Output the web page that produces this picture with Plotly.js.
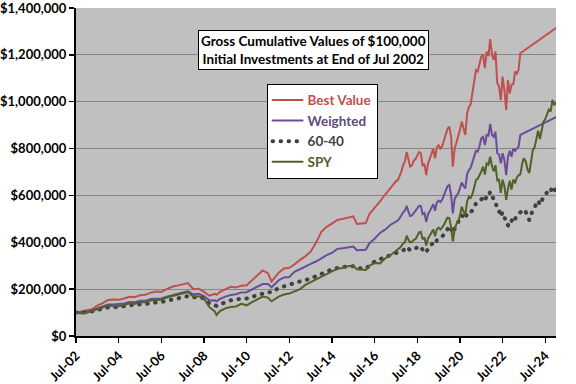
<!DOCTYPE html>
<html>
<head>
<meta charset="utf-8">
<script src="https://cdn.plot.ly/plotly-3.0.1.min.js"></script>
<style>html,body{margin:0;padding:0;background:#fff;}#chart{width:576px;height:384px;}
#chart path.js-line{stroke-linecap:round;}</style>
</head>
<body>
<div id="chart"></div>
<script>
// Dates: quarterly-ish to Jul-2017, monthly afterwards
const datesQ = ['2002-07','2002-10','2003-01','2003-04','2003-07','2003-10','2004-01','2004-04','2004-07','2004-10',
'2005-01','2005-04','2005-07','2005-10','2006-01','2006-04','2006-07','2006-10','2007-01','2007-04',
'2007-07','2007-10','2008-01','2008-04','2008-07','2008-10','2009-01','2009-02','2009-04','2009-07',
'2009-10','2010-01','2010-04','2010-07','2010-10','2011-01','2011-04','2011-07','2011-09','2012-01',
'2012-04','2012-07','2012-10','2013-01','2013-04','2013-07','2013-10','2014-01','2014-04','2014-07',
'2014-10','2015-01','2015-04','2015-07','2015-09','2016-02','2016-04','2016-07','2016-10','2017-01',
'2017-04','2017-07'];
const datesM = ['2017-08','2017-09','2017-10','2017-11','2017-12',
'2018-01','2018-02','2018-03','2018-04','2018-05','2018-06','2018-07','2018-08','2018-09','2018-10','2018-11','2018-12',
'2019-01','2019-02','2019-03','2019-04','2019-05','2019-06','2019-07','2019-08','2019-09','2019-10','2019-11','2019-12',
'2020-01','2020-02','2020-03','2020-04','2020-05','2020-06','2020-07','2020-08','2020-09','2020-10','2020-11','2020-12',
'2021-01','2021-02','2021-03','2021-04','2021-05','2021-06','2021-07','2021-08','2021-09','2021-10','2021-11','2021-12',
'2022-01','2022-02','2022-03','2022-04','2022-05','2022-06','2022-07','2022-08','2022-09','2022-10','2022-11','2022-12',
'2023-01','2023-02','2023-03','2023-04','2023-05','2023-06','2023-07','2023-08','2023-09','2023-10','2023-11','2023-12',
'2024-01','2024-02','2024-03','2024-04','2024-05','2024-06','2024-07','2024-08','2024-09','2024-10','2024-11','2024-12',
'2025-01'];
const dates = datesQ.concat(datesM);

// Values in $ thousands
const bestValue = [100,106,110,114,130,140,154,156,155,160,167,166,174,176,185,190,188,200,210,215,
220,226,200,202,188,172,180,176,188,200,210,207,215,217,238,258,280,268,232,270,
288,291,306,325,340,360,398,445,466,480,495,500,505,510,478,482,520,545,575,605,635,660,
665,680,700,730,745,
785,750,723,728,748,755,772,785,780,725,735,687,
735,758,775,800,758,805,815,800,810,835,865,885,
894,850,723,800,825,850,880,915,885,858,950,978,
990,1040,1100,1135,1129,1160,1193,1200,1143,1214,1195,1267,
1200,1179,1214,1080,1065,1008,1107,1051,965,1093,1035,1072,
1075,1129,1120,1136,1207,null,null,null,null,null,null,null,
null,null,null,null,null,null,null,null,null,null,null,null,
1314];

const weighted = [100,102,104,110,118,125,134,134,135,139,145,144,150,150,158,160,160,168,175,180,
186,191,178,180,170,152,153,148,158,168,175,178,186,187,198,210,222,222,208,238,
250,252,275,285,298,308,318,332,345,355,372,375,378,382,366,368,395,415,440,455,475,490,
493,502,515,528,535,
556,530,512,515,525,530,545,556,555,520,525,487,
520,533,545,563,535,570,578,572,582,600,625,640,
645,600,523,585,598,609,630,655,640,630,690,708,
718,742,773,790,787,810,844,850,815,858,855,905,
858,850,872,780,775,737,780,751,687,765,790,765,
800,790,800,808,858,null,null,null,null,null,null,null,
null,null,null,null,null,null,null,null,null,null,null,null,
934];

const sixtyForty = [100,99,101,105,110,116,122,122,123,127,131,131,135,137,142,143,145,150,155,160,
165,170,165,166,160,138,132,128,135,145,152,155,160,160,168,174,182,188,186,205,
212,220,226,233,238,245,255,265,275,285,290,296,298,298,290,288,302,318,328,336,344,352,
354,357,361,366,369,
380,370,366,367,370,371,378,383,382,368,372,359,
375,382,390,398,392,408,412,418,425,432,442,455,
470,455,440,458,470,485,500,515,508,500,525,532,
530,536,552,565,568,575,582,590,578,596,594,616,
596,585,575,540,535,510,528,512,478,473,495,490,
510,500,512,522,528,535,540,530,512,495,520,538,
548,565,578,560,578,590,600,612,625,618,637,622,
628];

const spy = [100,96,99,105,114,121,130,128,127,132,140,137,145,144,152,154,155,164,170,176,
180,188,168,170,160,123,105,90,106,118,124,126,137,131,145,158,168,164,148,168,
177,181,190,200,218,230,243,252,265,276,287,290,298,300,285,282,300,312,310,332,346,362,
367,375,384,395,400,
428,410,400,402,410,413,428,442,444,413,421,386,
416,429,437,455,426,456,463,455,464,474,491,505,
503,464,404,455,478,486,515,552,531,518,574,595,
589,606,633,666,671,686,702,723,689,737,731,765,
725,703,729,665,667,611,667,640,581,628,663,625,
668,652,676,686,690,734,758,746,711,695,758,793,
806,848,876,841,884,915,926,947,967,958,1008,985,
998];

const seriesNames = ['Best Value','Weighted','60-40','SPY'];
const seriesColors = ['#C0504D','#6B4C9A','#404040','#4F6228'];
const textColors = ['#C0504D','#604A7B','#404040','#4F6228'];
const titleText = 'Gross Cumulative Values of $100,000<br>Initial Investments at End of Jul 2002';

const FONT = 'Lato, "Open Sans", sans-serif';
const toDollars = a => a.map(v => v === null ? null : v * 1000);
const allSeries = [bestValue, weighted, sixtyForty, spy];

const traces = allSeries.map((vals, i) => ({
  x: dates,
  y: toDollars(vals),
  type: 'scatter',
  mode: 'lines',
  connectgaps: true,
  name: '<span style="color:' + textColors[i] + '">' + seriesNames[i] + '</span>',
  line: i === 2 ? {color: seriesColors[i], width: 4, dash: '0.5px,7.5px'}
                : {color: seriesColors[i], width: 2}
}));

const layout = {
  width: 576, height: 384,
  margin: {l: 76, r: 20, t: 8, b: 48},
  paper_bgcolor: '#FFFFFF',
  plot_bgcolor: '#C0C0C0',
  font: {family: FONT, size: 12, color: '#000'},
  showlegend: true,
  legend: {
    x: 0.397, y: 0.769, xanchor: 'left', yanchor: 'top',
    bgcolor: '#FFFFFF', bordercolor: '#000', borderwidth: 1,
    font: {family: FONT, size: 13.5, weight: 'bold', color: '#404040'},
    tracegroupgap: 0
  },
  xaxis: {
    type: 'date',
    range: ['2002-07-01', '2025-01-01'],
    tick0: '2002-07-01', dtick: 'M24', tickformat: '%b-%y',
    tickangle: -45,
    tickfont: {family: FONT, size: 13, weight: 'bold', color: '#000'},
    ticks: 'outside', ticklen: 5, tickwidth: 1.5, tickcolor: '#000',
    showline: true, linecolor: '#000', linewidth: 2,
    showgrid: false, zeroline: false, fixedrange: true,
    ticklabeloverflow: 'allow'
  },
  yaxis: {
    range: [0, 1400000], dtick: 200000, tick0: 0,
    tickprefix: '$', tickformat: ',.0f',
    tickfont: {family: FONT, size: 13, weight: 'bold', color: '#000'},
    ticks: 'outside', ticklen: 5, tickwidth: 1.5, tickcolor: '#000',
    showline: true, linecolor: '#000', linewidth: 2,
    showgrid: true, gridcolor: '#868686', gridwidth: 1,
    zeroline: false, fixedrange: true,
    ticklabeloverflow: 'allow'
  },
  annotations: [{
    xref: 'paper', yref: 'paper', x: 0.4946, y: 0.871,
    xanchor: 'center', yanchor: 'middle',
    text: titleText, showarrow: false, align: 'center',
    font: {family: FONT, size: 13.5, weight: 'bold', color: '#000'},
    bgcolor: '#FFFFFF', bordercolor: '#000', borderwidth: 1, borderpad: 2
  }],
  hovermode: false
};

Plotly.newPlot('chart', traces, layout, {displayModeBar: false, staticPlot: true});
</script>
</body>
</html>
